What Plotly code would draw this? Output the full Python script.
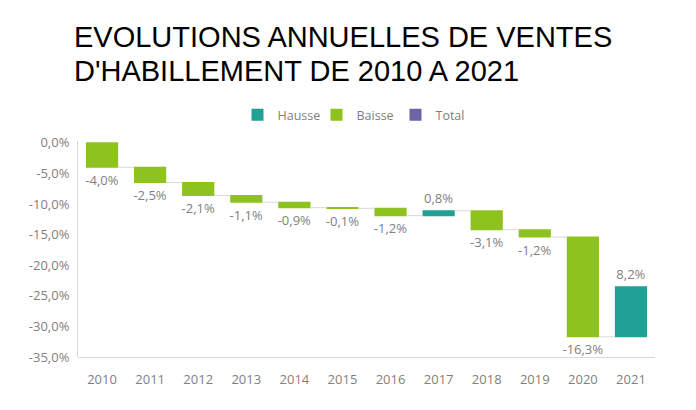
import plotly.graph_objects as go

years = ["2010", "2011", "2012", "2013", "2014", "2015", "2016", "2017", "2018", "2019", "2020", "2021"]
deltas = [-4.0, -2.5, -2.1, -1.1, -0.9, -0.1, -1.2, 0.8, -3.1, -1.2, -16.3, 8.2]
y_ticks = [0, -5, -10, -15, -20, -25, -30, -35]
legend_names = ["Hausse", "Baisse", "Total"]
title_lines = ["EVOLUTIONS ANNUELLES DE VENTES", "D'HABILLEMENT DE 2010 A 2021"]

C_UP = "#21A095"
C_DOWN = "#8DC21F"
C_TOT = "#6B64A6"
GRAY = "#7F7F7F"
FONT = "Open Sans"

W, H = 696, 410
ML, MR, MT, MB = 70, 49, 133, 61
PW, PH = W - ML - MR, H - MT - MB

fig = go.Figure()
fig.add_trace(go.Waterfall(
    x=years, y=deltas, measure=["relative"] * len(years),
    increasing=dict(marker=dict(color=C_UP)),
    decreasing=dict(marker=dict(color=C_DOWN)),
    totals=dict(marker=dict(color=C_TOT)),
    connector=dict(mode="between", line=dict(color="#D9D9D9", width=1)),
    texttemplate="%{delta:.1f}%",
    textposition="outside",
    constraintext="none",
    textfont=dict(family=FONT, size=13, color=GRAY),
    cliponaxis=False,
    showlegend=False,
    hoverinfo="skip",
))
for name, col in zip(legend_names, [C_UP, C_DOWN, C_TOT]):
    fig.add_trace(go.Scatter(
        x=[None], y=[None], mode="markers", name=name,
        marker=dict(symbol="square", size=11, color=col),
    ))

for i, line in enumerate(title_lines):
    fig.add_annotation(
        text=line, xref="paper", yref="paper",
        x=(64 - ML) / PW, y=1 + (MT - (29 + i * 33.5)) / PH,
        xanchor="left", yanchor="middle", showarrow=False,
        font=dict(family="Liberation Sans, Arial", size=29, color="#000000"),
    )

fig.update_layout(
    width=W, height=H,
    margin=dict(l=ML, r=MR, t=MT, b=MB, autoexpand=False),
    paper_bgcolor="white", plot_bgcolor="white",
    separators=", ",
    waterfallgap=0.33,
    font=dict(family=FONT, size=12, color=GRAY),
    legend=dict(orientation="h", x=0.5, xref="container", xanchor="center",
                y=1 - 107 / 410, yref="container", yanchor="middle",
                entrywidth=34, entrywidthmode="pixels",
                font=dict(family=FONT, size=12.5, color=GRAY), itemsizing="constant"),
    yaxis=dict(range=[-35, 0.3], tickvals=y_ticks,
               ticktext=[f"{v:.1f}%".replace(".", ",") for v in y_ticks],
               showgrid=False, zeroline=False, automargin=False, ticklabelstandoff=5,
               showline=True, linecolor="#D9D9D9", linewidth=1,
               tickfont=dict(family=FONT, size=13, color=GRAY)),
    xaxis=dict(showgrid=False, showline=True, linecolor="#D9D9D9", linewidth=1,
               automargin=False, ticklabelstandoff=10,
               tickfont=dict(family=FONT, size=13, color=GRAY), anchor="free", position=0),
)

fig.write_html("out.html")
